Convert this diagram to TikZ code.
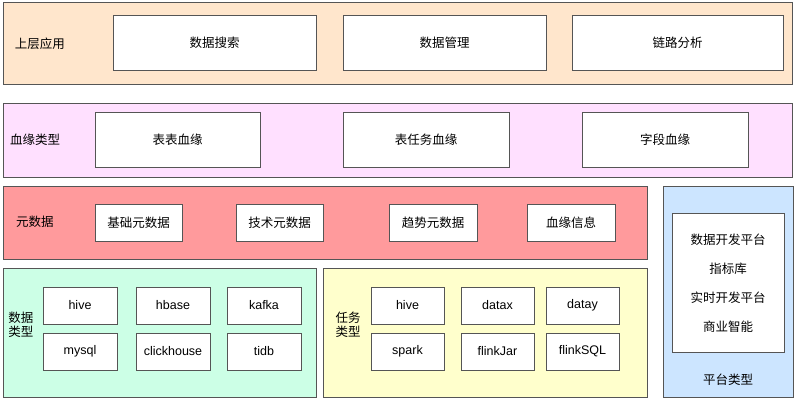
\documentclass[tikz,border=0pt]{standalone}
\usepackage{fontspec}
\setmainfont{Noto Sans CJK SC}
\newfontfamily\latinfont{Liberation Sans}
\definecolor{cTop}{HTML}{FFE6CC}
\definecolor{cLin}{HTML}{FFE0FF}
\definecolor{cMeta}{HTML}{FF9A9C}
\definecolor{cData}{HTML}{CCFFE6}
\definecolor{cTask}{HTML}{FFFFCC}
\definecolor{cPlat}{HTML}{CCE5FF}
\definecolor{cLine}{HTML}{555555}
\tikzset{
  band/.style={draw=cLine, line width=0.8pt},
  wbox/.style={draw=cLine, line width=0.8pt, fill=white, font=\fontsize{12.5}{14}\selectfont},
  lbl/.style={font=\fontsize{12.5}{14}\selectfont, inner sep=0pt},
  lat/.style={font=\latinfont\fontsize{12.5}{14}\selectfont}
}
\newcommand{\rbox}[6]{\node[#6, minimum width=#3-#1, minimum height=#4-#2, inner sep=0pt] (#5) at ({(#1+#3)/2},{(#2+#4)/2})}
\begin{document}
\begin{tikzpicture}[x=1pt,y=-1pt]
\useasboundingbox (0,0) rectangle (796,400);
% bands
\rbox{3}{2}{792}{84}{bTop}{band, fill=cTop} {};
\rbox{3}{103}{792}{177}{bLin}{band, fill=cLin} {};
\rbox{3}{186}{647}{259}{bMeta}{band, fill=cMeta} {};
\rbox{3}{268}{316}{397}{bData}{band, fill=cData} {};
\rbox{323}{268}{647}{397}{bTask}{band, fill=cTask} {};
\rbox{663}{186}{793}{397}{bPlat}{band, fill=cPlat} {};
% top band
\node[lbl] (lTop) at (40,44) {上层应用};
\rbox{113}{15}{316}{70}{t1}{wbox} {数据搜索};
\rbox{343}{15}{546}{70}{t2}{wbox} {数据管理};
\rbox{572}{15}{783}{70}{t3}{wbox} {链路分析};
% lineage band
\node[lbl] (lLin) at (35,140) {血缘类型};
\rbox{95}{112}{260}{167}{l1}{wbox} {表表血缘};
\rbox{343}{112}{509}{167}{l2}{wbox} {表任务血缘};
\rbox{582}{112}{748}{167}{l3}{wbox} {字段血缘};
% metadata band
\node[lbl] (lMeta) at (35,222) {元数据};
\rbox{95}{204}{182}{241}{m1}{wbox} {基础元数据};
\rbox{236}{204}{323}{241}{m2}{wbox} {技术元数据};
\rbox{389}{204}{477}{241}{m3}{wbox} {趋势元数据};
\rbox{527}{204}{615}{241}{m4}{wbox} {血缘信息};
% data types
\node[lbl, align=center] (lData) at (21,325) {数据\\类型};
\rbox{43}{287}{117}{324}{d1}{wbox, lat} {hive};
\rbox{136}{287}{210}{324}{d2}{wbox, lat} {hbase};
\rbox{227}{287}{301}{324}{d3}{wbox, lat} {kafka};
\rbox{43}{333}{117}{370}{d4}{wbox, lat} {mysql};
\rbox{136}{333}{210}{370}{d5}{wbox, lat} {clickhouse};
\rbox{227}{333}{301}{370}{d6}{wbox, lat} {tidb};
% task types
\node[lbl, align=center] (lTask) at (348,325) {任务\\类型};
\rbox{371}{287}{444}{324}{k1}{wbox, lat} {hive};
\rbox{461}{287}{534}{324}{k2}{wbox, lat} {datax};
\rbox{546}{287}{619}{324}{k3}{wbox, lat} {datay};
\rbox{371}{333}{444}{370}{k4}{wbox, lat} {spark};
\rbox{461}{333}{534}{370}{k5}{wbox, lat} {flinkJar};
\rbox{546}{333}{619}{370}{k6}{wbox, lat} {flinkSQL};
% platform
\rbox{672}{213}{784}{352}{pIn}{wbox} {};
\node[lbl] (p1) at (728,240) {数据开发平台};
\node[lbl] (p2) at (728,269) {指标库};
\node[lbl] (p3) at (728,298) {实时开发平台};
\node[lbl] (p4) at (728,327) {商业智能};
\node[lbl] (lPlat) at (728,380) {平台类型};
\end{tikzpicture}
\end{document}
